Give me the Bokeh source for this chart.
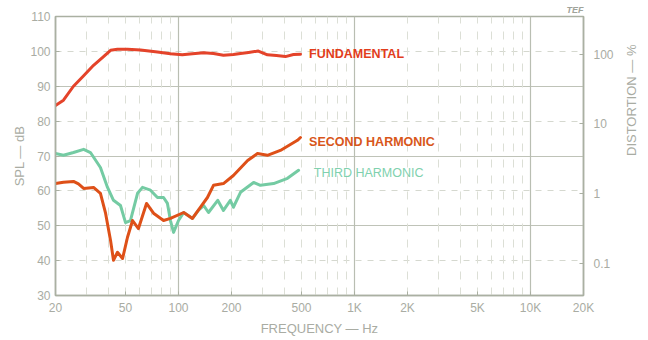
import math
from bokeh.plotting import figure
from bokeh.models import Range1d, LogAxis, LogScale, FixedTicker, Grid, Title, ColumnDataSource
from bokeh.core.properties import value
from bokeh.embed import file_html
from bokeh.resources import INLINE

# ---- data ----
fund_freq = [20, 22.2, 25.3, 28.9, 32.9, 37.5, 41.1, 45.0, 51.3, 60.8, 75.9, 90.0, 105, 120, 139, 158, 180, 205, 225, 250, 284, 320, 360, 405, 450, 493]
fund_db = [84.5, 86.0, 90.0, 93.0, 96.0, 98.5, 100.3, 100.6, 100.6, 100.4, 99.8, 99.3, 99.0, 99.3, 99.6, 99.4, 98.9, 99.1, 99.4, 99.7, 100.1, 99.0, 98.8, 98.5, 99.1, 99.2]

second_freq = [20, 22.2, 25.3, 27.0, 28.9, 32.9, 36.0, 38.5, 41.1, 42.7, 45.0, 48.1, 51.3, 54.8, 59.2, 65.8, 72.1, 82.2, 90.0, 107, 120, 133, 146, 158, 180, 205, 247, 281, 320, 379, 474, 493]
second_db = [62.1, 62.5, 62.7, 62.0, 60.7, 61.0, 59.3, 53.6, 45.8, 40.1, 42.4, 40.6, 46.7, 51.5, 49.2, 56.4, 53.6, 51.5, 52.1, 53.8, 52.1, 55.3, 58.1, 61.6, 62.1, 64.4, 68.7, 70.7, 70.2, 71.6, 74.5, 75.3]

third_freq = [20, 22.2, 25.3, 28.9, 31.6, 36.0, 39.5, 42.7, 46.8, 50.0, 53.3, 58.5, 62.4, 69.3, 75.9, 82.2, 86.5, 90.0, 93.7, 100, 107, 120, 130, 139, 148, 167, 180, 197, 205, 225, 267, 292, 347, 416, 481]
third_db = [70.7, 70.2, 71.0, 71.9, 71.0, 66.7, 61.0, 57.3, 55.8, 50.9, 51.5, 59.3, 61.0, 60.2, 58.1, 58.1, 56.4, 51.5, 48.1, 51.5, 53.8, 52.1, 54.5, 55.8, 53.8, 57.3, 54.4, 57.3, 55.3, 59.6, 62.4, 61.6, 62.1, 63.6, 65.9]

freq_ticks = [20, 50, 100, 200, 500, 1000, 2000, 5000, 10000, 20000]
freq_labels = ["20", "50", "100", "200", "500", "1K", "2K", "5K", "10K", "20K"]
spl_ticks = [30, 40, 50, 60, 70, 80, 90, 100, 110]
dist_ticks = [0.1, 1, 10, 100]
dist_labels = ["0.1", "1", "10", "100"]
dist_ref_db = 99.2  # SPL that corresponds to 100 % distortion

series_labels = ["FUNDAMENTAL", "SECOND HARMONIC", "THIRD HARMONIC"]

# ---- styling ----
AX = "#aab0a2"
TXT = "#a9aca3"
FONT = "Liberation Sans"
c_fund, c_sec, c_third = "#e4432a", "#de5018", "#74cba3"
t_fund, t_sec, t_third = "#e23d1c", "#d8561a", "#80d1ae"

p = figure(frame_width=528, frame_height=279, x_axis_type="log",
           x_range=Range1d(20, 20000), y_range=Range1d(30, 110),
           output_backend="svg", toolbar_location=None,
           min_border_left=55, min_border_right=60, min_border_top=16, min_border_bottom=40)
p.background_fill_color = "white"
p.border_fill_color = "white"
p.outline_line_color = AX
p.outline_line_width = 1.5

lax = p.yaxis[0]
bax = p.xaxis[0]

def db_to_pct(db):
    return 100 * 10 ** ((db - dist_ref_db) / 20)

p.extra_y_ranges = {"dist": Range1d(db_to_pct(30), db_to_pct(110))}
p.extra_y_scales = {"dist": LogScale()}
rax = LogAxis(y_range_name="dist", ticker=FixedTicker(ticks=dist_ticks),
              axis_label="DISTORTION — %")
rax.major_label_overrides = {t: l for t, l in zip(dist_ticks, dist_labels)}
if hasattr(rax, "axis_label_orientation"):
    rax.axis_label_orientation = math.pi / 2
p.add_layout(rax, "right")

# grid
p.xgrid.visible = False
p.ygrid.visible = False
solid_y = [50, 70, 90]
dash_y = [40, 60, 80, 100]
solid_x = [100, 1000, 10000]
dash_x = [30, 40, 50, 60, 70, 80, 90, 200, 300, 400, 500, 600, 700, 800, 900,
          2000, 3000, 4000, 5000, 6000, 7000, 8000, 9000]
p.add_layout(Grid(dimension=1, ticker=FixedTicker(ticks=solid_y), grid_line_color="#bfc3b8", grid_line_width=1.2))
p.add_layout(Grid(dimension=1, ticker=FixedTicker(ticks=dash_y), grid_line_color="#d5d8cf", grid_line_width=1, grid_line_dash="6 6"))
p.add_layout(Grid(dimension=0, ticker=FixedTicker(ticks=solid_x), grid_line_color="#b9beb2", grid_line_width=1.2))
p.add_layout(Grid(dimension=0, ticker=FixedTicker(ticks=dash_x), grid_line_color="#dcdfd6", grid_line_width=1, grid_line_dash="8 8"))

# axes
bax.ticker = FixedTicker(ticks=freq_ticks)
bax.major_label_overrides = {t: l for t, l in zip(freq_ticks, freq_labels)}
bax.axis_label = "FREQUENCY — Hz"
lax.ticker = FixedTicker(ticks=spl_ticks)
lax.axis_label = "SPL — dB"

for ax in [bax, lax, rax]:
    ax.axis_line_color = AX
    ax.axis_line_width = 1.5
    ax.major_tick_line_color = AX
    ax.major_tick_in = 4
    ax.major_tick_out = 0
    ax.minor_tick_line_color = None
    ax.major_label_text_color = TXT
    ax.major_label_text_font = FONT
    ax.major_label_text_font_size = "12px"
    ax.axis_label_text_color = TXT
    ax.axis_label_text_font = FONT
    ax.axis_label_text_font_size = "13px"
    ax.axis_label_text_font_style = "normal"

bax.major_label_standoff = 5
bax.axis_label_standoff = 3
lax.major_label_standoff = 5
lax.axis_label_standoff = 0
rax.major_label_standoff = 10
rax.axis_label_standoff = 15

# TEF logo above the frame, right-aligned
p.add_layout(Title(text="TEF", align="right", text_color="#a0a39a", text_font=FONT,
                   text_font_size="9px", text_font_style="bold italic", standoff=4), "above")

# curves
for fx, fy, col in [(third_freq, third_db, c_third), (second_freq, second_db, c_sec), (fund_freq, fund_db, c_fund)]:
    p.line(fx, fy, line_color=col, line_width=3, line_join="round", line_cap="round")

# curve labels placed just past each curve's last point
lab_x = [fund_freq[-1] * 1.12, second_freq[-1] * 1.12, third_freq[-1] * 1.22]
lab_y = [fund_db[-1], second_db[-1], third_db[-1]]
lab_src = ColumnDataSource(dict(x=lab_x, y=lab_y, t=series_labels,
                                c=[t_fund, t_sec, t_third],
                                fs=["bold", "bold", "normal"],
                                yo=[0, 4, 3]))
p.text(x="x", y="y", text="t", source=lab_src, text_color="c", text_font=value(FONT),
       text_font_size="12.5px", text_font_style="fs", text_baseline="middle", y_offset="yo")

open("out.html", "w").write(file_html(p, INLINE))
